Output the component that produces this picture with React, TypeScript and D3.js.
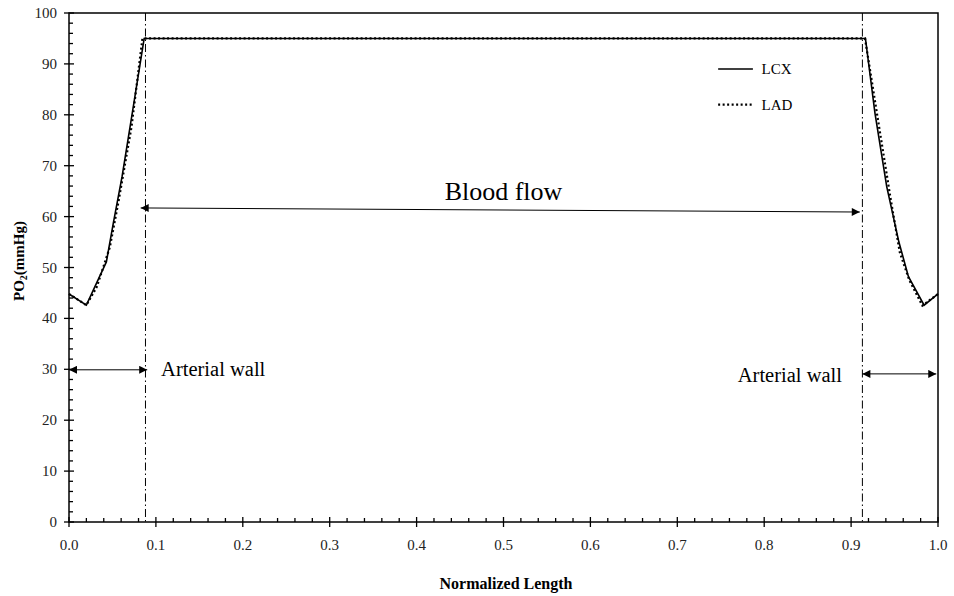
import React, { useEffect, useRef } from "react";
import * as d3 from "d3";

const lcxX = [0, 0.02, 0.043, 0.051, 0.061, 0.074, 0.0865, 0.5, 0.9165, 0.9275, 0.941, 0.955, 0.966, 0.984, 1.0];
const lcxY = [44.8, 42.6, 51.1, 58.7, 67.8, 81.6, 95, 95, 95, 80.3, 65.9, 55, 48.2, 42.6, 44.8];
const ladX = [0, 0.02, 0.032, 0.047, 0.057, 0.072, 0.0845, 0.5, 0.916, 0.93, 0.945, 0.956, 0.967, 0.982, 1.0];
const ladY = [44.8, 42.6, 46.2, 54, 63, 77.7, 95, 95, 95, 80, 64, 53, 47.5, 42.5, 44.8];
const xTicks = [0, 0.1, 0.2, 0.3, 0.4, 0.5, 0.6, 0.7, 0.8, 0.9, 1.0];
const yTicks = [0, 10, 20, 30, 40, 50, 60, 70, 80, 90, 100];
const wallLines = [0.088, 0.913];
const seriesNames = ["LCX", "LAD"];

const W = 954, H = 596;
const M = { left: 69, right: 16, top: 13, bottom: 74 };

export default function App() {
  const ref = useRef<SVGSVGElement>(null);
  useEffect(() => {
    const svg = d3.select(ref.current);
    svg.selectAll("*").remove();
    const x = d3.scaleLinear().domain([0, 1]).range([M.left, W - M.right]);
    const y = d3.scaleLinear().domain([0, 100]).range([H - M.bottom, M.top]);
    const font = "'Liberation Serif', 'Times New Roman', serif";

    const defs = svg.append("defs");
    defs.append("marker").attr("id", "ah").attr("viewBox", "0 0 10 10").attr("refX", 10).attr("refY", 5)
      .attr("markerWidth", 10).attr("markerHeight", 8).attr("markerUnits", "userSpaceOnUse").attr("orient", "auto-start-reverse")
      .append("path").attr("d", "M0,0 L10,5 L0,10 Z").attr("fill", "#000");

    // frame
    svg.append("rect").attr("x", x(0)).attr("y", y(100)).attr("width", x(1) - x(0)).attr("height", y(0) - y(100))
      .attr("fill", "none").attr("stroke", "#000").attr("stroke-width", 1.5);

    // ticks
    const g = svg.append("g").attr("stroke", "#000").attr("stroke-width", 1.3);
    d3.range(0, 1.0001, 0.02).forEach((v) => {
      const major = Math.abs(v * 10 - Math.round(v * 10)) < 1e-6;
      g.append("line").attr("x1", x(v)).attr("x2", x(v)).attr("y1", y(0) + (major ? 5 : 0)).attr("y2", y(0) - (major ? 5 : 4));
    });
    d3.range(0, 100.001, 2).forEach((v) => {
      const major = Math.abs(v % 10) < 1e-6;
      g.append("line").attr("y1", y(v)).attr("y2", y(v)).attr("x1", x(0) - (major ? 5 : 0)).attr("x2", x(0) + (major ? 5 : 4));
    });

    // tick labels
    svg.append("g").selectAll("text").data(xTicks).join("text")
      .attr("x", (d) => x(d)).attr("y", y(0) + 28).attr("text-anchor", "middle")
      .attr("font-family", font).attr("font-size", 15).attr("fill", "#222").text((d) => d.toFixed(1));
    svg.append("g").selectAll("text").data(yTicks).join("text")
      .attr("x", x(0) - 12).attr("y", (d) => y(d) + 5).attr("text-anchor", "end")
      .attr("font-family", font).attr("font-size", 15).attr("fill", "#222").text((d) => String(d));

    // axis titles
    svg.append("text").attr("x", 506).attr("y", 589).attr("text-anchor", "middle")
      .attr("font-family", font).attr("font-size", 16).attr("font-weight", "bold").text("Normalized Length");
    const yt = svg.append("text").attr("transform", `translate(24,261) rotate(-90)`)
      .attr("text-anchor", "middle").attr("font-family", font).attr("font-size", 15).attr("font-weight", "bold");
    yt.append("tspan").text("PO");
    yt.append("tspan").attr("font-size", 10).attr("dy", 3).text("2");
    yt.append("tspan").attr("dy", -3).text("(mmHg)");

    // wall lines
    wallLines.forEach((v) => {
      svg.append("line").attr("x1", x(v)).attr("x2", x(v)).attr("y1", y(100)).attr("y2", y(0))
        .attr("stroke", "#000").attr("stroke-width", 1).attr("stroke-dasharray", "8,3,1.5,3");
    });

    const lcx = lcxX.map((v, i) => [x(v), y(lcxY[i])] as [number, number]);
    const lad = ladX.map((v, i) => [x(v), y(ladY[i])] as [number, number]);
    svg.append("path").attr("d", d3.line()(lad)).attr("fill", "none").attr("stroke", "#000")
      .attr("stroke-width", 2.2).attr("stroke-dasharray", "2,2.5");
    svg.append("path").attr("d", d3.line()(lcx)).attr("fill", "none").attr("stroke", "#000").attr("stroke-width", 1.6);

    // legend
    svg.append("line").attr("x1", x(0.747)).attr("x2", x(0.787)).attr("y1", y(89.0)).attr("y2", y(89.0))
      .attr("stroke", "#000").attr("stroke-width", 1.6);
    svg.append("text").attr("x", x(0.797)).attr("y", y(89.0) + 5).attr("font-family", font).attr("font-size", 15).text(seriesNames[0]);
    svg.append("line").attr("x1", x(0.747)).attr("x2", x(0.787)).attr("y1", y(82.0)).attr("y2", y(82.0))
      .attr("stroke", "#000").attr("stroke-width", 2.2).attr("stroke-dasharray", "2,2.5");
    svg.append("text").attr("x", x(0.797)).attr("y", y(82.0) + 5).attr("font-family", font).attr("font-size", 15).text(seriesNames[1]);

    // annotations
    const arrow = (x1: number, y1: number, x2: number, y2: number) =>
      svg.append("line").attr("x1", x(x1)).attr("y1", y(y1)).attr("x2", x(x2)).attr("y2", y(y2))
        .attr("stroke", "#000").attr("stroke-width", 1)
        .attr("marker-start", "url(#ah)").attr("marker-end", "url(#ah)");
    arrow(0.0825, 61.7, 0.91, 60.9);
    arrow(0.0, 29.9, 0.09, 29.9);
    arrow(0.913, 29.1, 0.998, 29.1);

    svg.append("text").attr("x", x(0.5)).attr("y", y(63.2)).attr("text-anchor", "middle")
      .attr("font-family", font).attr("font-size", 26).text("Blood flow");
    svg.append("text").attr("x", x(0.106)).attr("y", y(28.6)).attr("font-family", font).attr("font-size", 20.5).text("Arterial wall");
    svg.append("text").attr("x", x(0.8895)).attr("y", y(27.6)).attr("text-anchor", "end")
      .attr("font-family", font).attr("font-size", 20.5).text("Arterial wall");
  }, []);
  return (
    <svg ref={ref} width={W} height={H} style={{ position: "absolute", left: 0, top: 0, background: "#fff" }} />
  );
}
